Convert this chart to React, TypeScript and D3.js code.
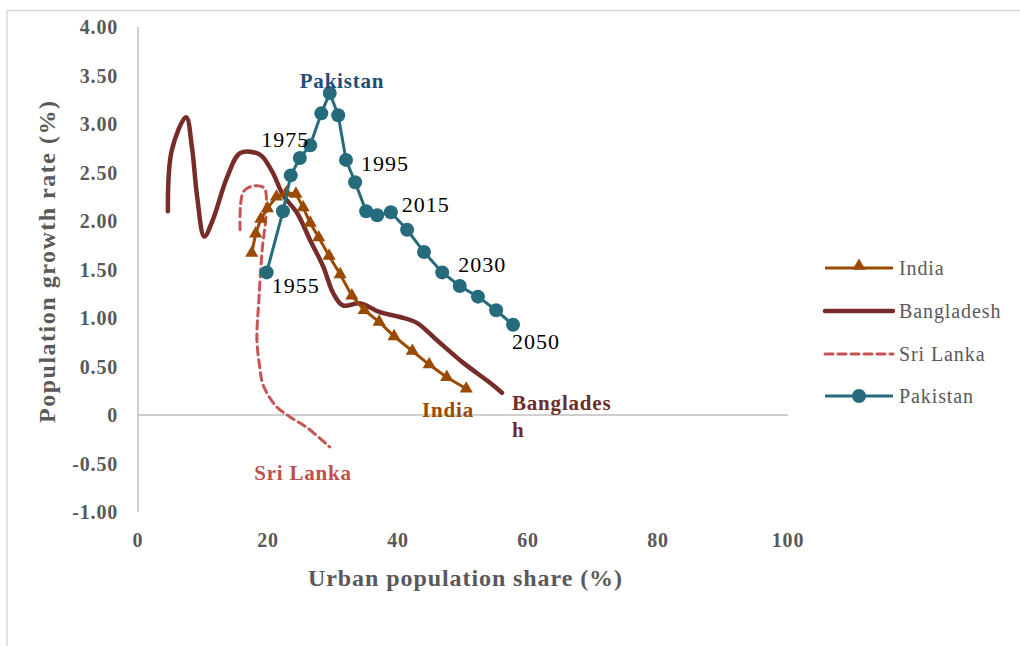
import React from "react";
import * as d3 from "d3";

type Pt = [number, number];

const xTicks = [0, 20, 40, 60, 80, 100];
const yTicks = [4, 3.5, 3, 2.5, 2, 1.5, 1, 0.5, 0, -0.5, -1];
const yTickLabels = ["4.00", "3.50", "3.00", "2.50", "2.00", "1.50", "1.00", "0.50", "0", "-0.50", "-1.00"];

const india: Pt[] = [
  [17.5, 1.67], [18.1, 1.87], [18.9, 2.02], [19.9, 2.13], [21.3, 2.25], [22.8, 2.29],
  [24.3, 2.28], [25.4, 2.14], [26.5, 1.98], [27.8, 1.83], [29.4, 1.64], [31.1, 1.45],
  [32.9, 1.23], [34.8, 1.08], [37.1, 0.96], [39.4, 0.81], [42.2, 0.66], [44.8, 0.52],
  [47.5, 0.39], [50.5, 0.27],
];

const bangladesh: Pt[] = [
  [4.6, 2.10], [5.2, 2.73], [7.4, 3.07], [8.3, 2.76], [9.1, 2.25], [10.2, 1.84],
  [11.5, 2.01], [13.7, 2.45], [15.7, 2.70], [18.3, 2.70], [19.2, 2.66], [20.8, 2.49],
  [22.3, 2.27], [24.5, 2.08], [26.5, 1.80], [28.5, 1.53], [30.0, 1.26], [31.5, 1.13],
  [34.2, 1.15], [37.2, 1.06], [40.3, 1.01], [42.9, 0.95], [46.0, 0.77], [50.0, 0.54],
  [54.2, 0.33], [56.0, 0.23],
];

const sriLanka: Pt[] = [
  [15.7, 1.91], [16.2, 2.30], [17.7, 2.36], [19.4, 2.34], [19.7, 2.08], [19.1, 1.70],
  [18.6, 1.19], [18.3, 0.77], [18.8, 0.46], [19.1, 0.34], [19.8, 0.23], [21.4, 0.08],
  [23.4, -0.02], [26.0, -0.13], [29.5, -0.33],
];

const pakistan: Pt[] = [
  [19.8, 1.47], [22.3, 2.10], [23.5, 2.47], [24.9, 2.65], [26.5, 2.78], [28.2, 3.11],
  [29.5, 3.32], [30.8, 3.09], [32.0, 2.63], [33.4, 2.40], [35.1, 2.10], [36.8, 2.06],
  [38.9, 2.09], [41.4, 1.91], [44.0, 1.68], [46.8, 1.47], [49.5, 1.33], [52.3, 1.22],
  [55.1, 1.08], [57.7, 0.93],
];

// year labels on Pakistan points: [index, text, dx, dy, anchor]
const pakLabels: [number, string, number, number, string][] = [
  [0, "1955", 5, 21, "start"],
  [4, "1975", -1, 2, "end"],
  [8, "1995", 15, 11, "start"],
  [12, "2015", 11, 0, "start"],
  [15, "2030", 16, 0, "start"],
  [19, "2050", -1, 24, "start"],
];

const legendNames = ["India", "Bangladesh", "Sri Lanka", "Pakistan"];

const C_INDIA = "#9A4A02";
const C_BANG = "#772C2A";
const C_SRI = "#C55553";
const C_PAK = "#266B7B";

const FONT = "'Liberation Serif', 'DejaVu Serif', serif";

export default function App() {
  const x = d3.scaleLinear().domain([0, 100]).range([138, 788]);
  const y = d3.scaleLinear().domain([-1, 4]).range([512, 27]);

  const straight = d3.line<Pt>().x((d) => x(d[0])).y((d) => y(d[1]));
  const smooth = d3
    .line<Pt>()
    .x((d) => x(d[0]))
    .y((d) => y(d[1]))
    .curve(d3.curveCatmullRom.alpha(0.5));

  const tri = d3.symbol().type(d3.symbolTriangle).size(75)();

  const legendY = [268, 311, 354, 396];

  return (
    <svg
      width={1020}
      height={646}
      style={{ position: "absolute", left: 0, top: 0, background: "#fff" }}
      fontFamily={FONT}
    >
      <rect x={0} y={0} width={1020} height={646} fill="#fff" />
      {/* outer border */}
      <line x1={7} y1={10.5} x2={1020} y2={10.5} stroke="#d9d9d9" strokeWidth={1.5} />
      <line x1={7} y1={10} x2={7} y2={646} stroke="#d9d9d9" strokeWidth={1.5} />

      {/* axes */}
      <line x1={x(0)} y1={y(4)} x2={x(0)} y2={y(-1)} stroke="#bfbfbf" strokeWidth={1.5} />
      <line x1={x(0)} y1={y(0)} x2={x(100)} y2={y(0)} stroke="#bfbfbf" strokeWidth={1.5} />

      {yTicks.map((t, i) => (
        <text
          key={"y" + i}
          x={118}
          y={y(t)}
          dy="0.35em"
          textAnchor="end"
          fontSize={20}
          letterSpacing={0.8}
          fontWeight="bold"
          fill="#595959"
        >
          {yTickLabels[i]}
        </text>
      ))}
      {xTicks.map((t) => (
        <text
          key={"x" + t}
          x={x(t)}
          y={547}
          textAnchor="middle"
          fontSize={20}
          letterSpacing={0.8}
          fontWeight="bold"
          fill="#595959"
        >
          {t}
        </text>
      ))}

      <text
        x={465}
        y={586}
        textAnchor="middle"
        fontSize={24}
        fontWeight="bold"
        fill="#595959"
        textLength={314}
        lengthAdjust="spacing"
      >
        Urban population share (%)
      </text>
      <text
        transform="translate(55,262) rotate(-90)"
        textAnchor="middle"
        fontSize={24}
        fontWeight="bold"
        fill="#595959"
        textLength={322}
        lengthAdjust="spacing"
      >
        Population growth rate (%)
      </text>

      {/* Sri Lanka */}
      <path
        d={smooth(sriLanka) || ""}
        fill="none"
        stroke={C_SRI}
        strokeWidth={3}
        strokeDasharray="8 5"
        strokeLinecap="round"
      />
      {/* Bangladesh */}
      <path
        d={smooth(bangladesh) || ""}
        fill="none"
        stroke={C_BANG}
        strokeWidth={4.5}
        strokeLinecap="round"
      />
      {/* India */}
      <path d={straight(india) || ""} fill="none" stroke={C_INDIA} strokeWidth={3} />
      {india.map((d, i) => (
        <path key={"i" + i} d={tri || ""} transform={`translate(${x(d[0])},${y(d[1])})`} fill={C_INDIA} />
      ))}
      {/* Pakistan */}
      <path d={straight(pakistan) || ""} fill="none" stroke={C_PAK} strokeWidth={3} />
      {pakistan.map((d, i) => (
        <circle key={"p" + i} cx={x(d[0])} cy={y(d[1])} r={7} fill={C_PAK} />
      ))}

      {pakLabels.map(([idx, txt, dx, dy, anchor]) => (
        <text
          key={txt}
          x={x(pakistan[idx][0]) + dx}
          y={y(pakistan[idx][1]) + dy}
          textAnchor={anchor as any}
          fontSize={22}
          letterSpacing={1}
          fill="#000"
        >
          {txt}
        </text>
      ))}

      {/* series labels */}
      <text x={342} y={88} textAnchor="middle" fontSize={21} letterSpacing={0.8} fontWeight="bold" fill="#1F4E79">
        Pakistan
      </text>
      <text x={448} y={417} textAnchor="middle" fontSize={21} letterSpacing={0.8} fontWeight="bold" fill="#9A4A02">
        India
      </text>
      <text x={512} y={410} fontSize={21} letterSpacing={0.8} fontWeight="bold" fill="#6E2B2B">
        Banglades
      </text>
      <text x={512} y={437} fontSize={21} fontWeight="bold" fill="#6E2B2B">
        h
      </text>
      <text x={303} y={480} textAnchor="middle" fontSize={21} letterSpacing={0.8} fontWeight="bold" fill="#C0504D">
        Sri Lanka
      </text>

      {/* legend */}
      {legendNames.map((name, i) => {
        const ly = legendY[i];
        return (
          <g key={name}>
            {i === 0 && (
              <>
                <line x1={825} y1={ly} x2={893} y2={ly} stroke={C_INDIA} strokeWidth={3} />
                <path d={tri || ""} transform={`translate(859,${ly - 2})`} fill={C_INDIA} />
              </>
            )}
            {i === 1 && (
              <line x1={825} y1={ly} x2={893} y2={ly} stroke={C_BANG} strokeWidth={4.5} strokeLinecap="round" />
            )}
            {i === 2 && (
              <line x1={825} y1={ly} x2={893} y2={ly} stroke={C_SRI} strokeWidth={3} strokeDasharray="8 5" strokeLinecap="round" />
            )}
            {i === 3 && (
              <>
                <line x1={825} y1={ly} x2={893} y2={ly} stroke={C_PAK} strokeWidth={3} />
                <circle cx={859} cy={ly} r={7} fill={C_PAK} />
              </>
            )}
            <text x={899} y={ly} dy="0.35em" fontSize={20} letterSpacing={0.9} fill="#595959">
              {name}
            </text>
          </g>
        );
      })}
    </svg>
  );
}
